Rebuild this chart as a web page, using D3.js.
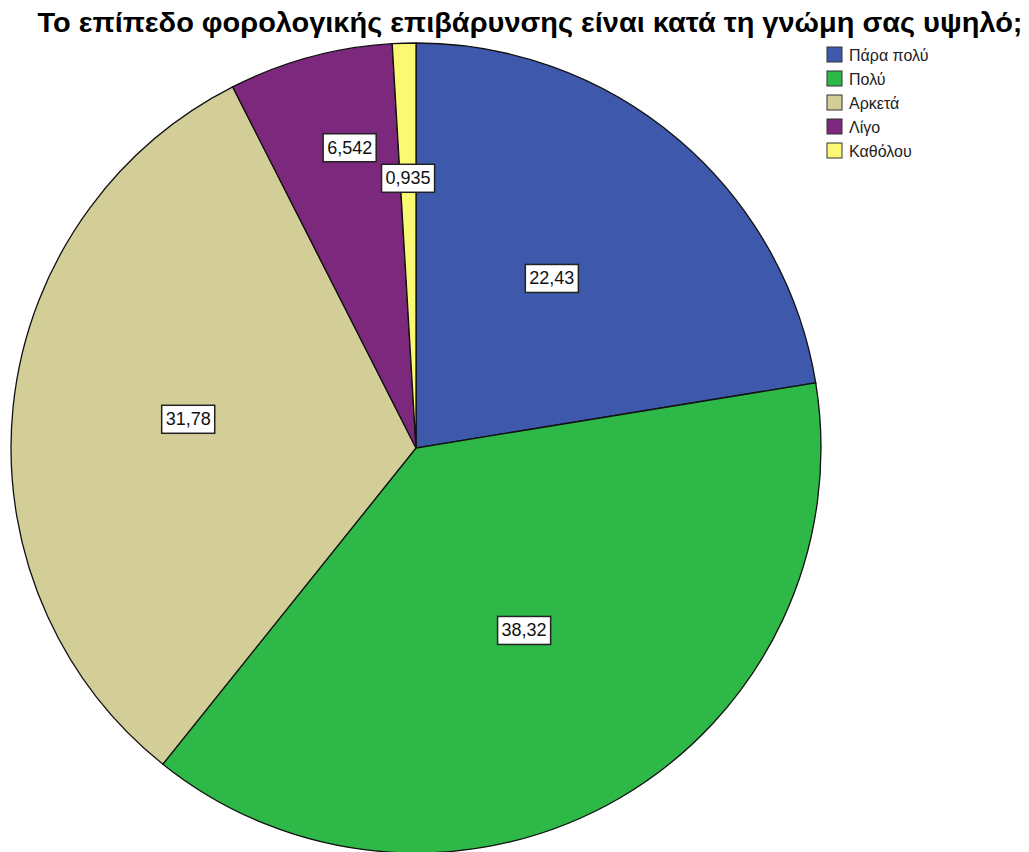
<!DOCTYPE html>
<html>
<head>
<meta charset="utf-8">
<script src="https://cdn.jsdelivr.net/npm/d3@7"></script>
<style>
  body { margin: 0; background: #fff; }
  text { font-family: Arial, "Liberation Sans", sans-serif; }
</style>
</head>
<body>
<div id="chart"></div>
<script>
// Pie data (percent)
var categories = ["Πάρα πολύ", "Πολύ", "Αρκετά", "Λίγο", "Καθόλου"];
var values = [22.43, 38.32, 31.78, 6.542, 0.935];
var valueLabels = ["22,43", "38,32", "31,78", "6,542", "0,935"];
var colors = ["#3E58AC", "#2EB848", "#D3CE97", "#7C287D", "#FBF873"];
var titleText = "Το επίπεδο φορολογικής επιβάρυνσης είναι κατά τη γνώμη σας υψηλό;";

var svgWidth = 1029, svgHeight = 852;
var cx = 416, cy = 448, radius = 405;

// label distance from centre as a fraction of radius, per slice
var labelRadius = [0.537, 0.523, 0.567, 0.76, 0.667];
var labelAngleShift = [-0.030, -0.007, 0.024, 0.047, 0.0];

var svg = d3.select("#chart")
  .append("svg")
  .attr("width", svgWidth)
  .attr("height", svgHeight);

svg.append("text")
  .attr("x", 530)
  .attr("y", 32)
  .attr("text-anchor", "middle")
  .attr("textLength", 985)
  .attr("lengthAdjust", "spacingAndGlyphs")
  .style("font-family", "'Liberation Sans Narrow', Arial, sans-serif")
  .style("font-size", "28px")
  .style("font-weight", "bold")
  .attr("fill", "#000")
  .text(titleText);

var pie = d3.pie().sort(null).value(function(d) { return d; });
var arcs = pie(values);
var arc = d3.arc().innerRadius(0).outerRadius(radius);

var g = svg.append("g")
  .attr("transform", "translate(" + cx + "," + cy + ")");

g.selectAll("path.slice")
  .data(arcs)
  .enter().append("path")
  .attr("class", "slice")
  .attr("d", arc)
  .attr("fill", function(d, i) { return colors[i]; })
  .attr("stroke", "#111")
  .attr("stroke-width", 1.3);

// value labels
var labels = g.selectAll("g.lbl")
  .data(arcs)
  .enter().append("g")
  .attr("class", "lbl")
  .attr("transform", function(d, i) {
    var a = (d.startAngle + d.endAngle) / 2 + labelAngleShift[i];
    var r = radius * labelRadius[i];
    return "translate(" + (r * Math.sin(a)) + "," + (-r * Math.cos(a)) + ")";
  });

labels.append("text")
  .attr("text-anchor", "middle")
  .attr("dy", "0.35em")
  .style("font-size", "18px")
  .attr("fill", "#111")
  .text(function(d, i) { return valueLabels[i]; });

labels.each(function() {
  var grp = d3.select(this);
  var bb = grp.select("text").node().getBBox();
  grp.insert("rect", "text")
    .attr("x", bb.x - 4)
    .attr("y", bb.y - 4)
    .attr("width", bb.width + 8)
    .attr("height", bb.height + 8)
    .attr("fill", "#fff")
    .attr("stroke", "#222")
    .attr("stroke-width", 1.5);
});

// legend
var legend = svg.append("g")
  .attr("transform", "translate(827,47)");

var items = legend.selectAll("g.item")
  .data(categories)
  .enter().append("g")
  .attr("class", "item")
  .attr("transform", function(d, i) { return "translate(0," + (i * 24) + ")"; });

items.append("rect")
  .attr("width", 15)
  .attr("height", 15)
  .attr("fill", function(d, i) { return colors[i]; })
  .attr("stroke", "#333")
  .attr("stroke-width", 1);

items.append("text")
  .attr("x", 22)
  .attr("y", 8)
  .attr("dy", "0.35em")
  .style("font-size", "16px")
  .attr("fill", "#222")
  .text(function(d) { return d; });
</script>
</body>
</html>
